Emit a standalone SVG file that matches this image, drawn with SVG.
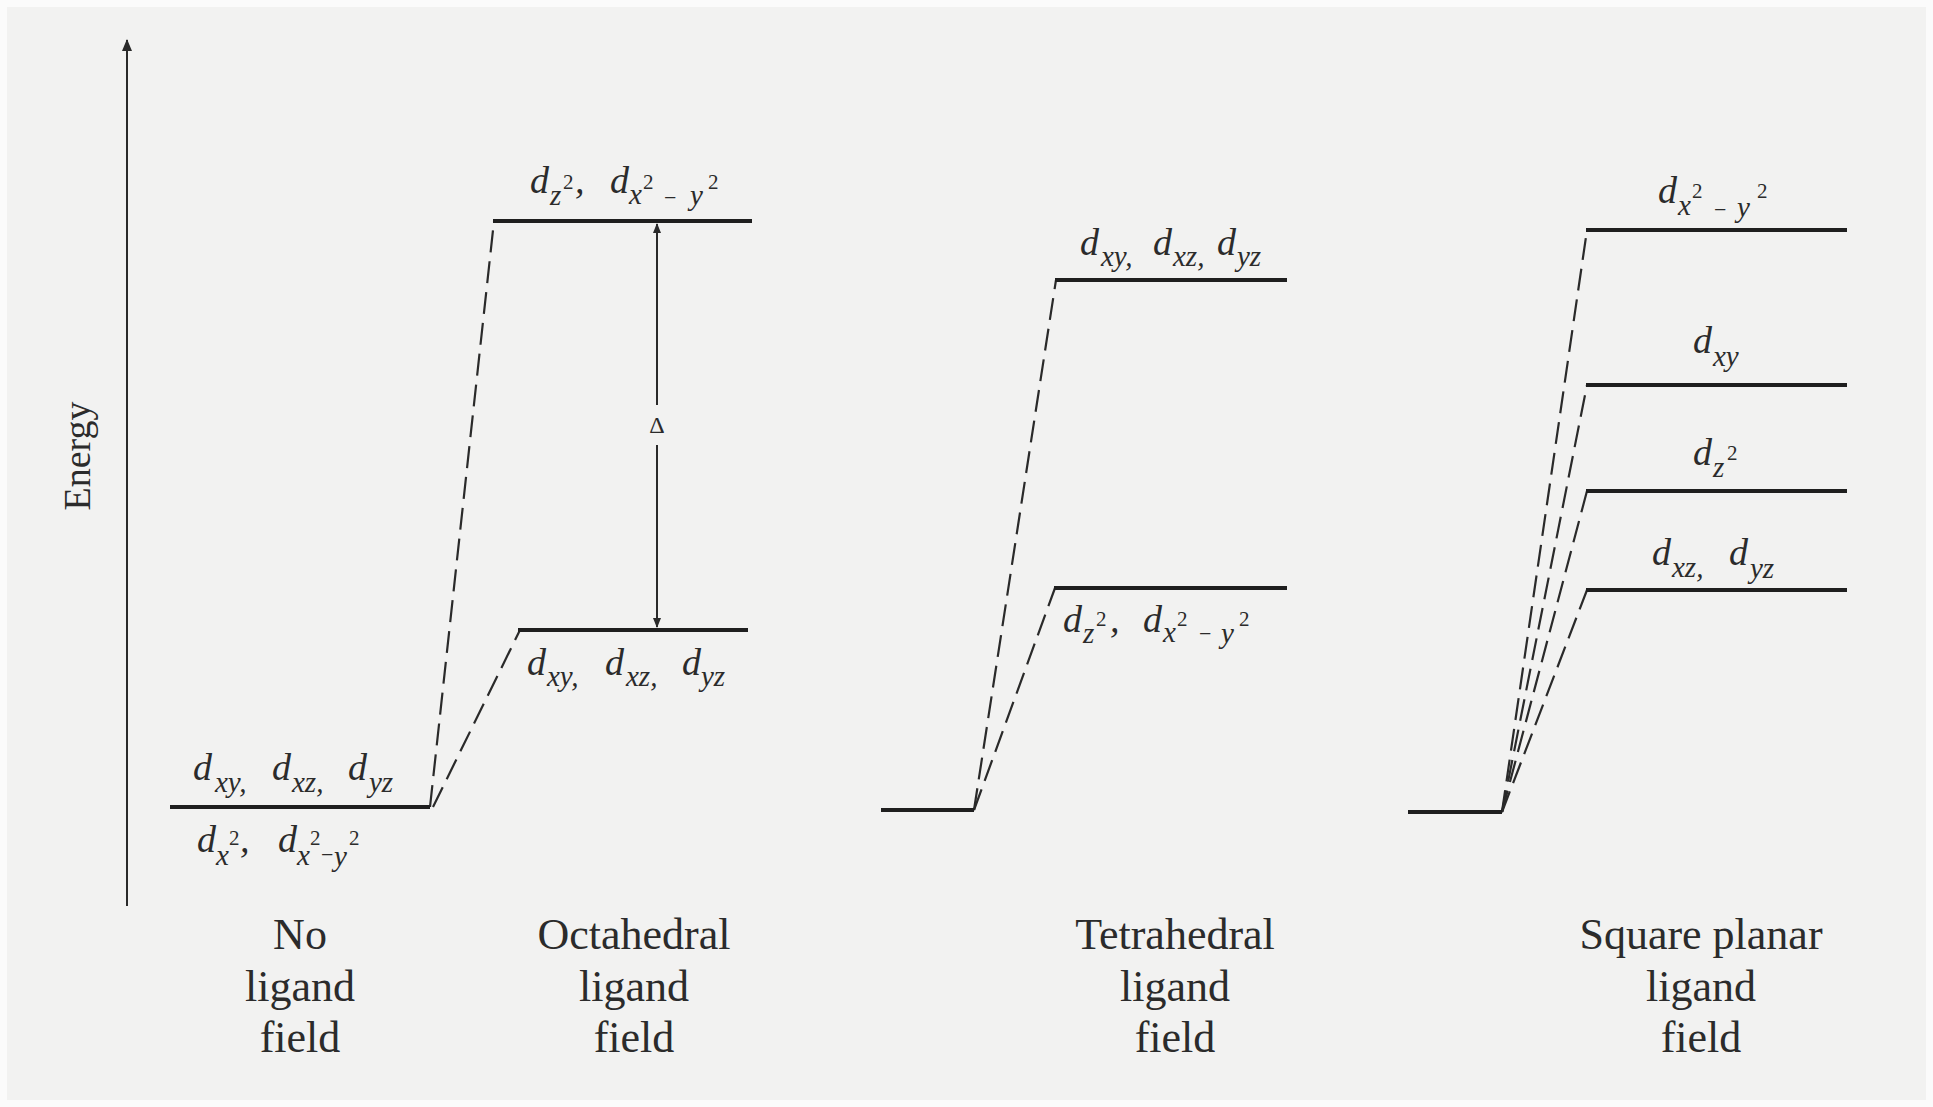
<svg xmlns="http://www.w3.org/2000/svg" width="1933" height="1107" viewBox="0 0 1933 1107">
<style>
.lvl{stroke:#1f1f1f;stroke-width:4;fill:none;stroke-linecap:butt}
.dash{stroke:#2a2a2a;stroke-width:2.2;fill:none;stroke-dasharray:22 9}
.ax{stroke:#2a2a2a;stroke-width:2;fill:none}
.t{font-family:"Liberation Serif","Times New Roman",serif;fill:#2b2b2b}
.d{font-family:"Liberation Serif","Times New Roman",serif;font-style:italic;font-size:38px;fill:#2b2b2b}
.sb{font-size:29px;font-style:italic}
.sp{font-size:21px;font-style:normal}
.mi{font-size:22px;font-style:normal}
.lab{font-size:44px;text-anchor:middle}
</style>
<defs>
<marker id="ah" viewBox="0 0 10 10" refX="9" refY="5" markerWidth="10" markerHeight="10" markerUnits="userSpaceOnUse" orient="auto">
<path d="M0,1 L10,5 L0,9 z" fill="#2a2a2a"/>
</marker>
<marker id="ah2" viewBox="0 0 12 12" refX="11" refY="6" markerWidth="12" markerHeight="14" markerUnits="userSpaceOnUse" orient="auto">
<path d="M0,1 L12,6 L0,11 z" fill="#2a2a2a"/>
</marker>
</defs>
<rect x="0" y="0" width="1933" height="1107" fill="#fbfbfb"/>
<rect x="7" y="7" width="1919" height="1093" fill="#f2f2f1"/>

<g id="energy-axis">
<line class="ax" x1="127" y1="906" x2="127" y2="40" marker-end="url(#ah2)"/>
<text class="t" font-size="38" text-anchor="middle" transform="translate(90,456) rotate(-90)">Energy</text>
</g>

<g id="connectors">
<line class="dash" x1="430" y1="807" x2="494" y2="221"/>
<line class="dash" x1="433" y1="807" x2="520" y2="630"/>
<line class="dash" x1="974" y1="810" x2="1056" y2="280"/>
<line class="dash" x1="974" y1="810" x2="1055" y2="588"/>
<line class="dash" x1="1502" y1="812" x2="1587" y2="230"/>
<line class="dash" x1="1502" y1="812" x2="1587" y2="385"/>
<line class="dash" x1="1502" y1="812" x2="1587" y2="491"/>
<line class="dash" x1="1502" y1="812" x2="1587" y2="590"/>
</g>

<g id="no-field">
<line class="lvl" x1="170" y1="807" x2="430" y2="807"/>
<text class="d"><tspan x="193" y="780">d</tspan><tspan class="sb" x="215" y="792">xy,</tspan><tspan x="272" y="780">d</tspan><tspan class="sb" x="292" y="792">xz,</tspan><tspan x="348" y="780">d</tspan><tspan class="sb" x="369" y="792">yz</tspan></text>
<text class="d"><tspan x="197" y="852">d</tspan><tspan class="sb" x="216" y="865">x</tspan><tspan class="sp" x="229" y="845">2</tspan><tspan x="240" y="852">,</tspan><tspan x="278" y="852">d</tspan><tspan class="sb" x="297" y="865">x</tspan><tspan class="sp" x="310" y="845">2</tspan><tspan class="mi" x="321" y="862">−</tspan><tspan class="sb" x="334" y="866">y</tspan><tspan class="sp" x="349" y="845">2</tspan></text>
<text class="t lab"><tspan x="300" y="949">No</tspan><tspan x="300" y="1001">ligand</tspan><tspan x="300" y="1052">field</tspan></text>
</g>

<g id="octahedral">
<line class="lvl" x1="493" y1="221" x2="752" y2="221"/>
<line class="lvl" x1="518" y1="630" x2="748" y2="630"/>
<text class="d"><tspan x="530" y="193">d</tspan><tspan class="sb" x="550" y="205">z</tspan><tspan class="sp" x="563" y="189">2</tspan><tspan x="575" y="193">,</tspan><tspan x="610" y="193">d</tspan><tspan class="sb" x="629" y="204">x</tspan><tspan class="sp" x="643" y="189">2</tspan><tspan class="mi" x="664" y="205">−</tspan><tspan class="sb" x="690" y="205">y</tspan><tspan class="sp" x="708" y="189">2</tspan></text>
<text class="d"><tspan x="527" y="675">d</tspan><tspan class="sb" x="547" y="686">xy,</tspan><tspan x="605" y="675">d</tspan><tspan class="sb" x="626" y="686">xz,</tspan><tspan x="682" y="675">d</tspan><tspan class="sb" x="701" y="686">yz</tspan></text>
<line class="ax" x1="657" y1="405" x2="657" y2="224" marker-end="url(#ah)"/>
<line class="ax" x1="657" y1="445" x2="657" y2="627" marker-end="url(#ah)"/>
<text class="t" font-size="24" text-anchor="middle" x="657" y="433">Δ</text>
<text class="t lab"><tspan x="634" y="949">Octahedral</tspan><tspan x="634" y="1001">ligand</tspan><tspan x="634" y="1052">field</tspan></text>
</g>

<g id="tetrahedral">
<line class="lvl" x1="881" y1="810" x2="974" y2="810"/>
<line class="lvl" x1="1055" y1="280" x2="1287" y2="280"/>
<line class="lvl" x1="1054" y1="588" x2="1287" y2="588"/>
<text class="d"><tspan x="1080" y="255">d</tspan><tspan class="sb" x="1101" y="266">xy,</tspan><tspan x="1153" y="255">d</tspan><tspan class="sb" x="1173" y="266">xz,</tspan><tspan x="1217" y="255">d</tspan><tspan class="sb" x="1237" y="266">yz</tspan></text>
<text class="d"><tspan x="1063" y="632">d</tspan><tspan class="sb" x="1083" y="643">z</tspan><tspan class="sp" x="1096" y="626">2</tspan><tspan x="1110" y="632">,</tspan><tspan x="1143" y="632">d</tspan><tspan class="sb" x="1163" y="642">x</tspan><tspan class="sp" x="1177" y="626">2</tspan><tspan class="mi" x="1199" y="641">−</tspan><tspan class="sb" x="1221" y="643">y</tspan><tspan class="sp" x="1239" y="626">2</tspan></text>
<text class="t lab"><tspan x="1175" y="949">Tetrahedral</tspan><tspan x="1175" y="1001">ligand</tspan><tspan x="1175" y="1052">field</tspan></text>
</g>

<g id="square-planar">
<line class="lvl" x1="1408" y1="812" x2="1502" y2="812"/>
<line class="lvl" x1="1586" y1="230" x2="1847" y2="230"/>
<line class="lvl" x1="1586" y1="385" x2="1847" y2="385"/>
<line class="lvl" x1="1586" y1="491" x2="1847" y2="491"/>
<line class="lvl" x1="1586" y1="590" x2="1847" y2="590"/>
<text class="d"><tspan x="1658" y="203">d</tspan><tspan class="sb" x="1678" y="215">x</tspan><tspan class="sp" x="1692" y="198">2</tspan><tspan class="mi" x="1714" y="217">−</tspan><tspan class="sb" x="1737" y="217">y</tspan><tspan class="sp" x="1757" y="198">2</tspan></text>
<text class="d"><tspan x="1693" y="353">d</tspan><tspan class="sb" x="1713" y="366">xy</tspan></text>
<text class="d"><tspan x="1693" y="465">d</tspan><tspan class="sb" x="1713" y="477">z</tspan><tspan class="sp" x="1727" y="460">2</tspan></text>
<text class="d"><tspan x="1652" y="565">d</tspan><tspan class="sb" x="1672" y="577">xz,</tspan><tspan x="1729" y="565">d</tspan><tspan class="sb" x="1750" y="578">yz</tspan></text>
<text class="t lab"><tspan x="1701" y="949">Square planar</tspan><tspan x="1701" y="1001">ligand</tspan><tspan x="1701" y="1052">field</tspan></text>
</g>
</svg>
